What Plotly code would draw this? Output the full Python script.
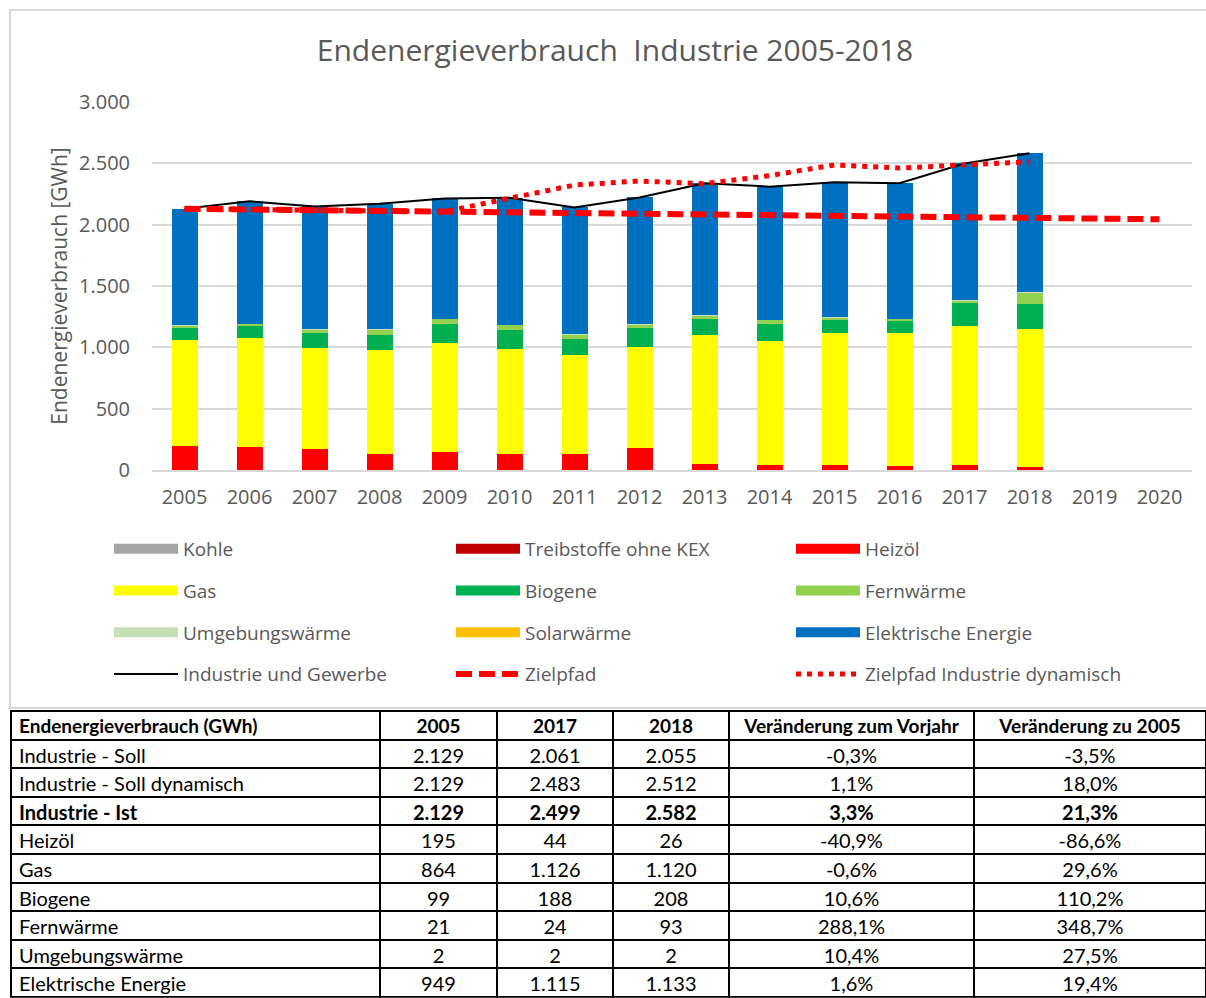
import plotly.graph_objects as go

# ---------------- data ----------------
years = ["2005", "2006", "2007", "2008", "2009", "2010", "2011", "2012",
         "2013", "2014", "2015", "2016", "2017", "2018", "2019", "2020"]
bar_years = years[:14]

kohle = [0, 0, 0, 0, 0, 0, 0, 0, 0, 0, 0, 0, 0, 0]
treibstoffe = [0, 0, 0, 0, 0, 0, 0, 0, 0, 0, 0, 0, 0, 0]
heizoel = [195, 190, 170, 128, 150, 128, 128, 177, 52, 41, 41, 33, 44, 26]
gas = [864, 887, 828, 851, 886, 859, 810, 829, 1052, 1014, 1074, 1082, 1126, 1120]
biogene = [99, 96, 117, 125, 158, 158, 128, 150, 129, 139, 109, 99, 188, 208]
fernwaerme = [21, 19, 30, 41, 39, 39, 38, 30, 30, 30, 20, 19, 24, 93]
umgebung = [2, 2, 2, 2, 2, 2, 2, 2, 2, 2, 2, 2, 2, 2]
solar = [0, 0, 0, 0, 0, 0, 0, 0, 0, 0, 0, 0, 0, 0]
elektrisch = [949, 996, 1002, 1023, 979, 1034, 1035, 1034, 1072, 1084, 1099, 1102, 1115, 1133]

industrie_gewerbe = [2129, 2190, 2149, 2170, 2214, 2220, 2141, 2222, 2337, 2310, 2345, 2337, 2499, 2582]
zielpfad = [2129, 2123, 2118, 2112, 2106, 2101, 2095, 2089, 2084, 2078, 2072, 2067, 2061, 2055, 2050, 2044]
zielpfad_dyn = [2129, 2123, 2118, 2112, 2106, 2215, 2323, 2356, 2334, 2400, 2487, 2462, 2483, 2512]

# table data
tab_header = ["Endenergieverbrauch (GWh)", "2005", "2017", "2018",
              "Veränderung zum Vorjahr", "Veränderung zu 2005"]
tab_rows = ["Industrie - Soll", "Industrie - Soll dynamisch", "Industrie - Ist", "Heizöl",
            "Gas", "Biogene", "Fernwärme", "Umgebungswärme", "Elektrische Energie"]
tab_2005 = [2129, 2129, 2129, 195, 864, 99, 21, 2, 949]
tab_2017 = [2061, 2483, 2499, 44, 1126, 188, 24, 2, 1115]
tab_2018 = [2055, 2512, 2582, 26, 1120, 208, 93, 2, 1133]
tab_chg_prev = [-0.3, 1.1, 3.3, -40.9, -0.6, 10.6, 288.1, 10.4, 1.6]
tab_chg_2005 = [-3.5, 18.0, 21.3, -86.6, 29.6, 110.2, 348.7, 27.5, 19.4]
bold_row = 2  # "Industrie - Ist" is printed in bold

# ---------------- helpers ----------------
def de_int(v):
    return f"{v:,}".replace(",", ".")

def de_pct(v):
    return f"{v:.1f}".replace(".", ",") + "%"

W, H = 1206, 998
def px(x):
    return x / W
def py(y):
    return 1 - y / H

TXT = "#595959"
FONT = "Open Sans"

fig = go.Figure()

bar_series = [
    ("Kohle", kohle, "#a5a5a5", "legend"),
    ("Treibstoffe ohne KEX", treibstoffe, "#c00000", "legend2"),
    ("Heizöl", heizoel, "#ff0000", "legend3"),
    ("Gas", gas, "#ffff00", "legend"),
    ("Biogene", biogene, "#00b050", "legend2"),
    ("Fernwärme", fernwaerme, "#92d050", "legend3"),
    ("Umgebungswärme", umgebung, "#c5e0b4", "legend"),
    ("Solarwärme", solar, "#ffc000", "legend2"),
    ("Elektrische Energie", elektrisch, "#0070c0", "legend3"),
]
for name, vals, col, lg in bar_series:
    fig.add_trace(go.Bar(x=bar_years, y=vals, name=name, marker_color=col,
                         marker_line_width=0, legendgroup=name, showlegend=False))
# legend entries (wide rectangular swatches like the original)
for name, vals, col, lg in bar_series:
    fig.add_trace(go.Scatter(x=[None], y=[None], mode="lines", name=name,
                             line=dict(color=col, width=13), legend=lg,
                             legendgroup=name, hoverinfo="skip"))

fig.add_trace(go.Scatter(x=bar_years, y=industrie_gewerbe, mode="lines",
                         name="Industrie und Gewerbe", line=dict(color="black", width=2),
                         legend="legend", legendgroup="ig"))
fig.add_trace(go.Scatter(x=years, y=zielpfad, mode="lines", name="Zielpfad",
                         line=dict(color="#ff0000", width=6, dash="16px,7px"),
                         legend="legend2", legendgroup="zp"))
fig.add_trace(go.Scatter(x=bar_years, y=zielpfad_dyn, mode="lines",
                         name="Zielpfad Industrie dynamisch",
                         line=dict(color="#ff0000", width=5, dash="5px,6px"),
                         legend="legend3", legendgroup="zpd"))

# ---------------- table ----------------
columns = [
    tab_rows,
    [de_int(v) for v in tab_2005],
    [de_int(v) for v in tab_2017],
    [de_int(v) for v in tab_2018],
    [de_pct(v) for v in tab_chg_prev],
    [de_pct(v) for v in tab_chg_2005],
]
aligns = ["left", "center", "center", "center", "center", "center"]
col_w = [369, 117, 116, 116, 245, 232]
ROW_H = 28.6
TAB_TOP = 711
TAB_FONT = "Lato"

def tab_font(weight, size=20):
    return dict(family=TAB_FONT, size=size, color="black", weight=weight)

# part 1: column header (bold) + rows before the bold row
n1 = bold_row
y_top1 = TAB_TOP
y_bot1 = TAB_TOP + (n1 + 1) * ROW_H
fig.add_trace(go.Table(
    domain=dict(x=[px(11), 1.0], y=[py(y_bot1 + 0.5), py(y_top1)]),
    columnwidth=col_w,
    header=dict(values=tab_header, align=aligns, font=tab_font("bold", 19),
                line=dict(color="black", width=2), fill_color="white", height=ROW_H),
    cells=dict(values=[c[:n1] for c in columns], align=aligns, font=tab_font("normal"),
               line=dict(color="black", width=2), fill_color="white", height=ROW_H),
))
# part 2: bold row (as a bold header line) + remaining rows
y_top2 = y_bot1
fig.add_trace(go.Table(
    domain=dict(x=[px(11), 1.0], y=[0.0, py(y_top2)]),
    columnwidth=col_w,
    header=dict(values=[c[bold_row] for c in columns], align=aligns, font=tab_font("bold"),
                line=dict(color="black", width=2), fill_color="white", height=ROW_H),
    cells=dict(values=[c[bold_row + 1:] for c in columns], align=aligns,
               font=tab_font("normal"),
               line=dict(color="black", width=2), fill_color="white", height=ROW_H),
))

leg_common = dict(orientation="v", yanchor="top", xanchor="left",
                  font=dict(family=FONT, size=19, color=TXT),
                  traceorder="grouped", tracegroupgap=14, itemwidth=64,
                  bgcolor="rgba(0,0,0,0)", borderwidth=0)
leg_top = py(530)

fig.update_layout(
    width=W, height=H,
    margin=dict(l=0, r=0, t=0, b=0, autoexpand=False),
    paper_bgcolor="white", plot_bgcolor="white",
    separators=",.",
    barmode="stack", bargap=0.6,
    font=dict(family=FONT, color=TXT),
    title=dict(text="Endenergieverbrauch  Industrie 2005-2018", x=px(615), xanchor="center",
               y=py(50), yanchor="middle", font=dict(family=FONT, size=30, color=TXT)),
    xaxis=dict(domain=[px(152), px(1192)], type="category", categoryorder="array",
               categoryarray=years, range=[-0.5, 15.5], showgrid=False, automargin=False,
               showline=True, linecolor="#d9d9d9", linewidth=2, ticks="",
               tickfont=dict(family=FONT, size=20, color=TXT), ticklabelstandoff=8),
    yaxis=dict(domain=[py(470), py(102)], range=[0, 3000], dtick=500, tickformat=",d",
               showgrid=True, gridcolor="#d9d9d9", gridwidth=2, zeroline=False,
               automargin=False, showline=False, ticks="", ticklabelstandoff=21,
               tickfont=dict(family=FONT, size=20, color=TXT),
               title=dict(text="Endenergieverbrauch [GWh]", standoff=5,
                          font=dict(family=FONT, size=21, color=TXT))),
    legend=dict(x=px(109), y=leg_top, **leg_common),
    legend2=dict(x=px(451), y=leg_top, **leg_common),
    legend3=dict(x=px(791), y=leg_top, **leg_common),
    shapes=[dict(type="rect", xref="paper", yref="paper", x0=px(10), x1=1.02,
                 y0=py(708), y1=py(10), line=dict(color="#d9d9d9", width=2),
                 fillcolor="rgba(0,0,0,0)", layer="below")],
)

fig.write_html("out.html", config={"displayModeBar": False},
               post_script="document.body.style.margin='0px';")
